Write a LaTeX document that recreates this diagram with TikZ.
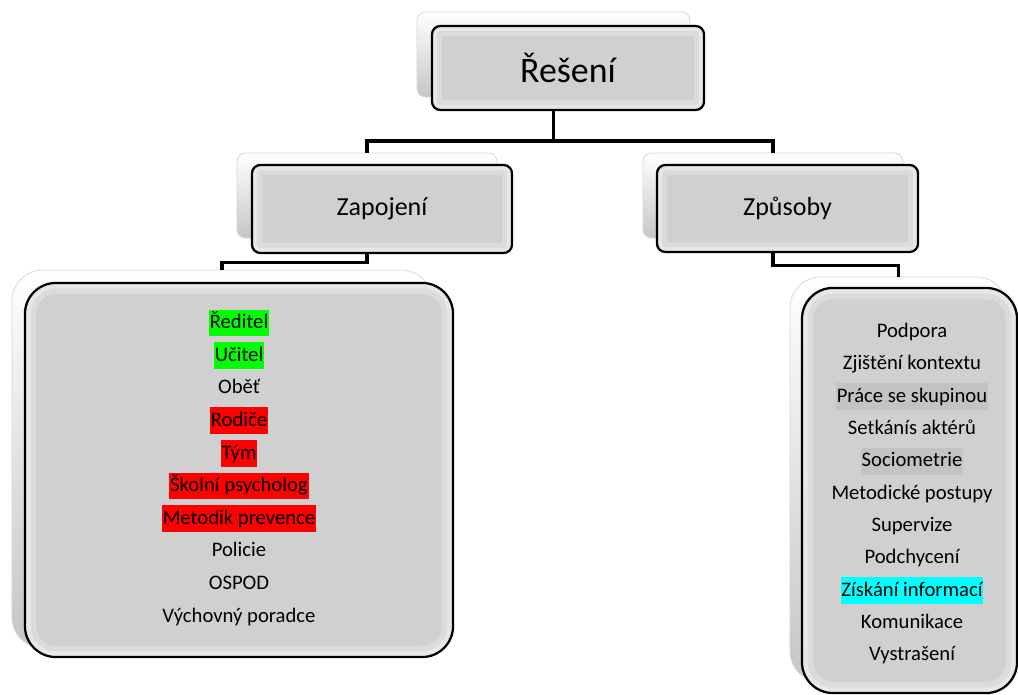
\documentclass[tikz,border=0pt]{standalone}
\usepackage{fontspec}
\setmainfont{Carlito}
\definecolor{boxgray}{HTML}{D0D0D0}
\definecolor{hlgreen}{HTML}{00FF00}
\definecolor{hlred}{HTML}{FF0000}
\definecolor{hlcyan}{HTML}{00FFFF}
\definecolor{hlgray}{HTML}{C3C3C3}

\begin{document}
\begin{tikzpicture}[x=0.025cm, y=-0.025cm,
	backbox/.style={draw=gray!30, line width=0.6pt, top color=white, bottom color=gray!45, rounded corners=6pt},
	frontbox/.style={draw=black, line width=1.6pt, fill=boxgray, rounded corners=6pt,
		path picture={
			\draw[white, opacity=.25, line width=14pt, rounded corners=6pt]
			(path picture bounding box.south west) rectangle (path picture bounding box.north east);
			\draw[white, opacity=.35, line width=7pt, rounded corners=6pt]
			(path picture bounding box.south west) rectangle (path picture bounding box.north east);}},
	backlist/.style={draw=gray!30, line width=0.6pt, top color=white, bottom color=gray!45, rounded corners=22pt},
	frontlist/.style={draw=black, line width=1.6pt, fill=boxgray, rounded corners=22pt,
		path picture={
			\draw[white, opacity=.25, line width=16pt, rounded corners=22pt]
			(path picture bounding box.south west) rectangle (path picture bounding box.north east);
			\draw[white, opacity=.35, line width=8pt, rounded corners=22pt]
			(path picture bounding box.south west) rectangle (path picture bounding box.north east);}},
	conn/.style={line width=2.6pt, black},
	item/.style={inner xsep=0.6pt, inner ysep=1.5pt, text height=12pt, text depth=4pt, font=\fontsize{14.7}{17}\selectfont}]

	\useasboundingbox (0,0) rectangle (1018,695);

	% back boxes
	\node[backbox, minimum width=6.825cm, minimum height=2.125cm] (reseniB) at (553.5,54.5) {};
	\node[backbox, minimum width=6.5cm, minimum height=2.125cm] (zapojeniB) at (367,195.5) {};
	\node[backbox, minimum width=6.5cm, minimum height=2.125cm] (zpusobyB) at (773,195.5) {};
	\node[backlist, minimum width=10.5cm, minimum height=9.45cm] (zapListB) at (222,459) {};
	\node[backlist, minimum width=5.425cm, minimum height=10.125cm] (zpuListB) at (898.5,479.5) {};

	% connectors
	\coordinate (split) at (553.5,141);
	\draw[conn] (reseniB.south) -- (split);
	\draw[conn] (split) -| (zapojeniB.north);
	\draw[conn] (split) -| (zpusobyB.north);
	\draw[conn] (zapojeniB.south) -- ++(0,24) -| (zapListB.north);
	\draw[conn] (zpusobyB.south) -- ++(0,27) -| (zpuListB.north);

	% front boxes
	\node[frontbox, minimum width=6.8cm, minimum height=2.1cm, font=\fontsize{25.5}{30}\selectfont] (reseni) at (568,68) {Řešení};
	\node[frontbox, minimum width=6.5cm, minimum height=2.2cm, font=\fontsize{18.5}{22}\selectfont] (zapojeni) at (382,209) {Zapojení};
	\node[frontbox, minimum width=6.525cm, minimum height=2.175cm, font=\fontsize{18.5}{22}\selectfont] (zpusoby) at (787.5,208.5) {Způsoby};
	\node[frontlist, minimum width=10.7cm, minimum height=9.35cm] (zapList) at (239,470) {};
	\node[frontlist, minimum width=5.375cm, minimum height=10.125cm] (zpuList) at (909.5,490.5) {};

	% list Zapojeni
	\foreach \txt/\hl [count=\i] in {Ředitel/hlgreen, Učitel/hlgreen, Oběť/none, Rodiče/hlred, Tým/hlred,
		Školní psycholog/hlred, Metodik prevence/hlred, Policie/none, OSPOD/none, Výchovný poradce/none}
		\node[item, fill=\hl] (zap\i) at (239,{323+32.6*(\i-1)}) {\txt};

	% list Zpusoby
	\foreach \txt/\hl [count=\i] in {Podpora/none, Zjištění kontextu/none, Práce se skupinou/hlgray,
		Setkánís aktérů/none, Sociometrie/hlgray, Metodické postupy/none, Supervize/none,
		Podchycení/none, Získání informací/hlcyan, Komunikace/none, Vystrašení/none}
		\node[item, fill=\hl] (zpu\i) at (912,{332+32.3*(\i-1)}) {\txt};

\end{tikzpicture}
\end{document}
